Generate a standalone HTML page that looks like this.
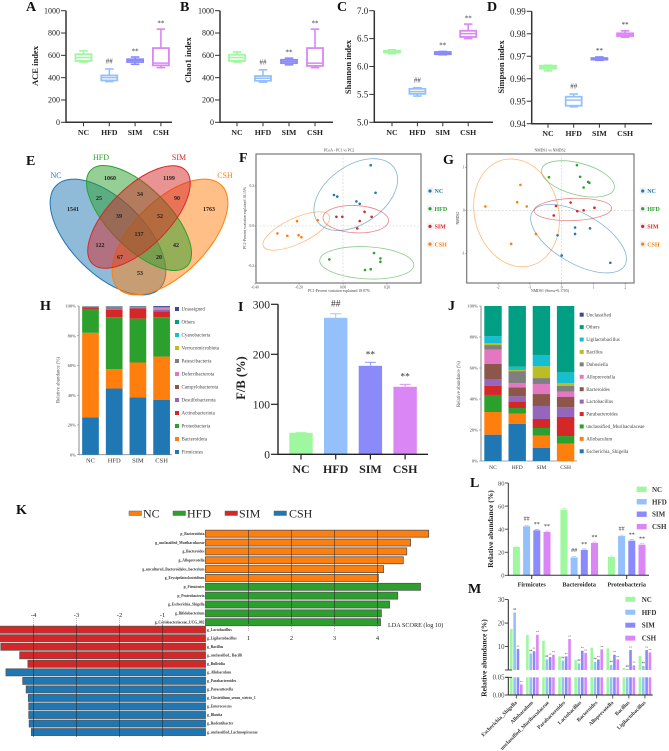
<!DOCTYPE html>
<html lang="en">
<head>
<meta charset="utf-8">
<title>Gut microbiota composite figure</title>
<style>
html,body{margin:0;padding:0;background:#fff;width:669px;height:751px;overflow:hidden}
svg{display:block;font-family:"Liberation Serif",serif}
</style>
</head>
<body>
<svg id="fig" width="669" height="751" viewBox="0 0 669 751">
<g id="pa"></g>
<g id="pb"></g>
<g id="pc"></g>
<g id="pd"></g>
<g id="pe">
  <g font-size="8">
    <ellipse cx="108" cy="237" rx="73" ry="37" transform="rotate(45 108 237)" fill="#1f77b4" fill-opacity=".5" stroke="#1f77b4" stroke-width="1"/>
    <ellipse cx="170" cy="237" rx="73" ry="37" transform="rotate(-45 170 237)" fill="#ff7f0e" fill-opacity=".5" stroke="#ff7f0e" stroke-width="1"/>
    <ellipse cx="139" cy="218" rx="68" ry="30" transform="rotate(45 139 218)" fill="#2ca02c" fill-opacity=".5" stroke="#2ca02c" stroke-width="1"/>
    <ellipse cx="139" cy="217" rx="66" ry="30" transform="rotate(-45 139 217)" fill="#d62728" fill-opacity=".5" stroke="#d62728" stroke-width="1"/>
    <text x="56" y="178" text-anchor="middle" fill="#1f77b4">NC</text>
    <text x="101" y="160" text-anchor="middle" fill="#2ca02c">HFD</text>
    <text x="179" y="160" text-anchor="middle" fill="#d62728">SIM</text>
    <text x="225" y="178" text-anchor="middle" fill="#ff7f0e">CSH</text>
  </g>
  <g font-size="6" font-weight="bold" text-anchor="middle" fill="#222">
    <text x="110" y="180">1060</text>
    <text x="169" y="180">1199</text>
    <text x="73" y="211">1541</text>
    <text x="99" y="200">25</text>
    <text x="140" y="196">34</text>
    <text x="177" y="200">90</text>
    <text x="209" y="211">1763</text>
    <text x="119" y="218">39</text>
    <text x="160" y="218">52</text>
    <text x="139" y="236">137</text>
    <text x="100" y="247">122</text>
    <text x="176" y="247">42</text>
    <text x="120" y="259">67</text>
    <text x="159" y="259">20</text>
    <text x="140" y="275">53</text>
  </g>
</g>
<g id="pf"></g>
<g id="pg"></g>
<g id="ph"></g>
<g id="pi"></g>
<g id="pj"></g>
<g id="pk"></g>
<g id="pl"></g>
<g id="pm"></g>
<g font-size="14" font-weight="bold" fill="#111">
  <text x="26" y="11">A</text>
  <text x="180" y="11">B</text>
  <text x="337" y="11">C</text>
  <text x="487" y="11">D</text>
  <text x="26" y="165">E</text>
  <text x="239" y="162">F</text>
  <text x="443" y="164">G</text>
  <text x="40" y="310">H</text>
  <text x="238" y="311">I</text>
  <text x="448" y="310">J</text>
  <text x="16" y="514">K</text>
  <text x="470" y="487">L</text>
  <text x="468" y="593">M</text>
</g>
</svg>
<script>
// ---------- shared categories ----------
const groups = ['NC', 'HFD', 'SIM', 'CSH'];
const groupSigns = ['', '##', '**', '**'];

// ---------- panels A-D: [min, q1, median, q3, max] per group ----------
const aceStats = [[540, 550, 580, 610, 640], [365, 375, 400, 420, 478], [520, 540, 555, 565, 585], [490, 510, 530, 665, 835]];
const chaoStats = [[540, 550, 580, 605, 630], [360, 372, 395, 415, 470], [515, 530, 545, 560, 575], [490, 505, 530, 665, 835]];
const shannonStats = [[6.23, 6.25, 6.27, 6.28, 6.30], [5.47, 5.51, 5.55, 5.60, 5.62], [6.21, 6.22, 6.24, 6.26, 6.27], [6.50, 6.53, 6.59, 6.64, 6.76]];
const simpsonStats = [[0.9635, 0.9645, 0.9652, 0.9658, 0.966], [0.9475, 0.948, 0.9505, 0.952, 0.9532], [0.9682, 0.9685, 0.9688, 0.9692, 0.9697], [0.9785, 0.979, 0.9795, 0.9802, 0.9813]];
const aceTicks = [0, 200, 400, 600, 800, 1000];
const shannonTicks = ['5.0', '5.5', '6.0', '6.5', '7.0'];
const simpsonTicks = ['0.94', '0.95', '0.96', '0.97', '0.98', '0.99'];

// ---------- panel F: PCoA points [pc1, pc2] ----------
const fPointsNC = [[.126, .304], [.148, .166], [-.041, .155], [-.026, .147], [.061, .123], [.076, .111]];
const fPointsHFD = [[-.062, -.167], [.141, -.135], [.170, -.162], [.170, -.179], [.100, -.220], [.126, -.216]];
const fPointsSIM = [[-.030, .046], [-.003, .046], [.098, .071], [.130, .046], [.076, .025], [.065, -.012]];
const fPointsCSH = [[-.298, -.037], [-.253, -.049], [-.202, -.046], [-.189, -.056], [-.209, .024], [-.115, .029]];
// ellipses: [centre pc1, centre pc2, major, minor, angle]
const fEllipseNC = [.058, .157, .213, .132, -35];
const fEllipseHFD = [.108, -.184, .214, .073, 3];
const fEllipseSIM = [.058, .034, .149, .062, 3];
const fEllipseCSH = [-.212, -.025, .165, .058, -25];
const fXTicks = ['-0.40', '-0.20', '0.00', '0.20'];
const fYTicks = ['-0.2', '0.0', '0.2'];

// ---------- panel G: NMDS points ----------
const gPointsNC = [[.42, -.40], [.42, -.55], [.89, -.42], [-.13, -.58], [0, -1.05], [1.53, -1.22]];
const gPointsHFD = [[.48, 1.05], [.58, .78], [-.40, .77], [.83, .66], [.87, .64], [.69, .53]];
const gPointsSIM = [[-.18, .10], [.28, .18], [1.03, .06], [.69, 0], [.49, -.02], [-.25, -.12]];
const gPointsCSH = [[-1.30, .59], [-2.40, .09], [-1.40, .19], [-1.10, .09], [-.81, -.55], [-1.59, -.78]];
const gEllipseNC = [.53, -.66, 1.68, .78, 30];
const gEllipseHFD = [.51, .73, 1.18, .50, 15];
const gEllipseSIM = [.35, .02, 1.22, .35, -2];
const gEllipseCSH = [-1.42, -.06, 1.72, 1.32, 75];
const gXTicks = [-2, -1, 0, 1, 2];
const gYTicks = [-1, 0, 1];

// ---------- panel H: phylum composition (%) ----------
const hFirmicutes = [25, 44.5, 38.5, 37];
const hBacteroidota = [57, 13, 23.5, 29];
const hProteobacteria = [16, 35, 29.5, 26.5];
const hActinobacteriota = [1.2, 5, 7, 4];
const hDesulfobacterota = [.1, .8, .3, 1];
const hCampylobacterota = [.1, .3, .1, .2];
const hDeferribacterota = [.1, .1, .1, .8];
const hPatescibacteria = [.2, .8, .4, .5];
const hVerrucomicrobiota = [.05, .1, .1, .1];
const hCyanobacteria = [.05, .1, .1, .1];
const hOthers = [.1, .1, .1, .2];
const hUnassigned = [.1, .2, .3, .6];
const hSeries = [hFirmicutes, hBacteroidota, hProteobacteria, hActinobacteriota, hDesulfobacterota, hCampylobacterota, hDeferribacterota, hPatescibacteria, hVerrucomicrobiota, hCyanobacteria, hOthers, hUnassigned];
const hNames = ['Firmicutes', 'Bacteroidota', 'Proteobacteria', 'Actinobacteriota', 'Desulfobacterota', 'Campylobacterota', 'Deferribacterota', 'Patescibacteria', 'Verrucomicrobiota', 'Cyanobacteria', 'Others', 'Unassigned'];
const stackTicks = [0, 20, 40, 60, 80, 100];
const stackColors = ['#1f77b4', '#ff7f0e', '#2ca02c', '#d62728', '#9467bd', '#8c564b', '#e377c2', '#7f7f7f', '#bcbd22', '#17becf', '#009e82', '#3b4992'];

// ---------- panel I: F/B ratio ----------
const iValues = [43, 273, 177, 135];
const iErrors = [1, 8, 7, 5];
const iTicks = [0, 100, 200, 300];

// ---------- panel J: genus composition (%) ----------
const jEscherichia = [17, 23.9, 8.6, 0];
const jAllobaculum = [14.6, 6.6, 7.7, 11.2];
const jMuribaculaceae = [11, 3.7, 5, 4.9];
const jParabacteroides = [5.8, 4.3, 5.8, 12.3];
const jLactobacillus = [4.5, 3.2, 8.4, 6.4];
const jBacteroides = [9.7, 5.8, 7.7, 6.5];
const jAlloprevotella = [9.2, 2.8, 6.5, 3.4];
const jDubosiella = [3, 7.7, 3.8, 3.7];
const jBacillus = [1.3, .7, 7.6, 1.9];
const jLigilactobacillus = [4.5, 2.2, 7.3, 6.9];
const jOthers = [19.4, 39.1, 31.6, 42.8];
const jUnclassified = [0, 0, 0, 0];
const jSeries = [jEscherichia, jAllobaculum, jMuribaculaceae, jParabacteroides, jLactobacillus, jBacteroides, jAlloprevotella, jDubosiella, jBacillus, jLigilactobacillus, jOthers, jUnclassified];
const jNames = ['Escherichia_Shigella', 'Allobaculum', 'unclassified_Muribaculaceae', 'Parabacteroides', 'Lactobacillus', 'Bacteroides', 'Alloprevotella', 'Dubosiella', 'Bacillus', 'Ligilactobacillus', 'Others', 'Unclassified'];

// ---------- panel K: LDA scores ----------
const kUpperLabels = ['p_Bacteroidota', 'g_unclassified_Muribaculaceae', 'g_Bacteroides', 'g_Alloprevotella', 'g_uncultured_Bacteroidales_bacterium', 'g_Erysipelatoclostridium', 'p_Firmicutes', 'p_Proteobacteria', 'g_Escherichia_Shigella', 'g_Bifidobacterium', 'g_Coriobacteriaceae_UCG_002'];
const kUpperScores = [5.19, 4.77, 4.68, 4.60, 4.14, 4.02, 5.0, 4.47, 4.28, 4.09, 4.07];
const kUpperGroups = [0, 0, 0, 0, 0, 0, 1, 1, 1, 1, 1];
const kLowerLabels = ['g_Lactobacillus', 'g_Ligilactobacillus', 'g_Bacillus', 'g_unclassified_ Bacilli', 'g_Bulleidia', 'g_Allobaculum', 'g_Parabacteroides', 'g_Parasutterella', 'g_Clostridium_sensu_stricto_1', 'g_Enterococcus', 'g_Blautia', 'g_Rodentibacter', 'g_unclassified_Lachnospiraceae'];
const kLowerScores = [4.85, 4.85, 4.76, 4.32, 4.13, 4.64, 4.25, 4.17, 4.12, 4.11, 4.11, 4.10, 4.05];
const kLowerGroups = [2, 2, 2, 2, 2, 3, 3, 3, 3, 3, 3, 3, 3];
const kPosTicks = [1, 2, 3, 4];
const kNegTicks = [-1, -2, -3, -4];
const kColors = ['#ff7f0e', '#2ca02c', '#d62728', '#1f77b4'];

// ---------- panel L ----------
const lCategories = ['Firmicutes', 'Bacteroidota', 'Proteobacteria'];
const lNC = [24.5, 57, 16];
const lHFD = [42.5, 15.5, 34];
const lSIM = [39, 22, 30];
const lCSH = [37.5, 28, 26.5];
const lTicks = [0, 20, 40, 60, 80];

// ---------- panel M ----------
const mCategories = ['Escherichia_Shigella', 'Allobaculum', 'unclassified_Muribaculaceae', 'Parabacteroides', 'Lactobacillus', 'Bacteroides', 'Alloprevotella', 'Bacillus', 'Ligilactobacillus'];
const mNC = [17.5, 15, 12.5, 5.8, 4.3, 9.5, 9.2, .9, 6];
const mHFD = [24.5, 7, 4.5, 4, 2.8, 3.5, 2.2, .4, 1.7];
const mSIM = [9, 8, 5.5, 5.8, 8.2, 4.5, 6.5, 8.5, 8.5];
const mCSH = [.03, 15, 6.5, 13.2, 7.3, 8.8, 4.5, 2, 7.5];
const mUpperTicks = [10, 20, 30];
const mLowerTicks = ['0.00', '0.05'];

// ---------- drawing helpers ----------
const NS = 'http://www.w3.org/2000/svg';
const groupColors = ['#9ff79f', '#94c0fb', '#8a8afb', '#db86f5'];
const scatterColors = ['#1f77b4', '#2ca02c', '#d62728', '#ff7f0e'];
function linear(d0, d1, r0, r1) { return v => r0 + (v - d0) * (r1 - r0) / (d1 - d0); }
function add(parent, tag, attrs, name) {
  const el = document.createElementNS(NS, tag);
  for (const k in attrs) el.setAttribute(k, attrs[k]);
  
  
  parent.appendChild(el);
  return el;
}
function txt(parent, s, x, y, size, o, name) {
  o = o || {};
  const a = { x: x, y: y, 'font-size': size, 'text-anchor': o.anchor || 'middle', fill: o.fill || '#222' };
  if (o.weight) a['font-weight'] = o.weight;
  if (o.rot !== undefined) a.transform = 'rotate(' + o.rot + ' ' + x + ' ' + y + ')';
  const el = add(parent, 'text', a, name);
  el.textContent = s;
  return el;
}
function line(parent, x1, y1, x2, y2, stroke, w, name, dash) {
  const a = { x1: x1, y1: y1, x2: x2, y2: y2, stroke: stroke, 'stroke-width': w };
  if (dash) a['stroke-dasharray'] = dash;
  return add(parent, 'line', a, name);
}
function sig(parent, s, x, top, size, name) {
  if (!s) return;
  const y = s === '##' ? top - size * .77 : top - size * .53;
  txt(parent, s, x, y, size, { fill: '#333' }, name);
}

// ---------- box plots ----------
function boxPanel(g, c) {
  const y = linear(c.dom[0], c.dom[1], c.yBot, c.yTop);
  line(g, c.ax, c.yTop, c.ax, c.yBot + .7, '#333', 1.5, 'y-axis');
  line(g, c.ax, c.yBot, c.xEnd, c.yBot, '#333', 1.5, 'x-axis');
  c.ticks.forEach(t => {
    line(g, c.ax - 5, y(+t), c.ax, y(+t), '#333', 1, 'y-tick');
    txt(g, t, c.ax - 6, y(+t) + c.font * .34, c.font, { anchor: 'end' }, 'y-tick-label');
  });
  txt(g, c.title, c.titleX, c.titleY, 8.5, { weight: 'bold', rot: -90 }, 'y-axis-title');
  groups.forEach((name, i) => {
    const cx = c.c0 + i * c.step, col = groupColors[i], st = c.stats[i];
    line(g, cx, c.yBot, cx, c.yBot + 4, '#333', 1, 'x-tick');
    txt(g, name, cx, c.yBot + 12.5, 7.8, { weight: 'bold' }, 'x-tick-label');
    line(g, cx, y(st[0]), cx, y(st[4]), col, 1.6, 'box-whisker');
    line(g, cx - 4.3, y(st[0]), cx + 4.3, y(st[0]), col, 1.6, 'box-cap-low');
    line(g, cx - 4.3, y(st[4]), cx + 4.3, y(st[4]), col, 1.6, 'box-cap-high');
    add(g, 'rect', { x: cx - 8, y: y(st[3]), width: 16, height: Math.max(y(st[1]) - y(st[3]), .4), fill: '#fff', stroke: col, 'stroke-width': 1.8 }, 'box-' + name.toLowerCase());
    line(g, cx - 8, y(st[2]), cx + 8, y(st[2]), col, 1.5, 'box-median');
    sig(g, groupSigns[i], cx, y(st[4]), 7, 'significance-mark');
  });
}
boxPanel(document.getElementById('pa'), { stats: aceStats, dom: [0, 1000], ticks: aceTicks, ax: 66, xEnd: 172, yTop: 10.7, yBot: 122.3, c0: 83.5, step: 25.8, font: 8, title: 'ACE index', titleX: 38, titleY: 66 });
boxPanel(document.getElementById('pb'), { stats: chaoStats, dom: [0, 1000], ticks: aceTicks, ax: 220, xEnd: 333, yTop: 10.7, yBot: 122.3, c0: 237, step: 26, font: 8, title: 'Chao1 index', titleX: 191, titleY: 60 });
boxPanel(document.getElementById('pc'), { stats: shannonStats, dom: [5, 7], ticks: shannonTicks, ax: 374.3, xEnd: 493, yTop: 10.7, yBot: 122.3, c0: 392, step: 25.4, font: 9, title: 'Shannon index', titleX: 351, titleY: 67 });
boxPanel(document.getElementById('pd'), { stats: simpsonStats, dom: [.94, .99], ticks: simpsonTicks, ax: 531.7, xEnd: 652, yTop: 11.3, yBot: 123.7, c0: 548, step: 25.7, font: 9, title: 'Simpson index', titleX: 504, titleY: 67 });

// ---------- ordination ----------
function ordination(g, c) {
  const x = linear(c.xDom[0], c.xDom[1], c.xR[0], c.xR[1]);
  const y = linear(c.yDom[0], c.yDom[1], c.yR[0], c.yR[1]);
  const unit = (c.xR[1] - c.xR[0]) / (c.xDom[1] - c.xDom[0]);
  add(g, 'rect', { x: c.box[0], y: c.box[1], width: c.box[2], height: c.box[3], fill: '#fff', stroke: '#777', 'stroke-width': 1.2 }, 'plot-frame');
  line(g, x(0), c.box[1], x(0), c.box[1] + c.box[3], '#ccc', .6, 'zero-line-vertical', '2 1.5');
  line(g, c.box[0], y(0), c.box[0] + c.box[2], y(0), '#ccc', .6, 'zero-line-horizontal', '2 1.5');
  c.xTicks.forEach(t => {
    line(g, x(+t), c.box[1] + c.box[3], x(+t), c.box[1] + c.box[3] + 1.5, '#555', .5, 'x-tick');
    txt(g, t, x(+t), c.box[1] + c.box[3] + 5.5, 3.6, { fill: '#444' }, 'x-tick-label');
  });
  c.yTicks.forEach(t => {
    line(g, c.box[0] - 1.5, y(+t), c.box[0], y(+t), '#555', .5, 'y-tick');
    txt(g, t, c.box[0] - 2, y(+t) + 1.2, 3.6, { anchor: 'end', fill: '#444' }, 'y-tick-label');
  });
  txt(g, c.title, c.titleX, 151.5, 3.8, { fill: '#444' }, 'chart-title');
  txt(g, c.xLabel, c.titleX, 292, 3.8, { fill: '#444' }, 'x-axis-title');
  txt(g, c.yLabel, c.yLabelX, 218, 3.8, { fill: '#444', rot: -90 }, 'y-axis-title');
  c.ellipses.forEach((e, i) => {
    const cx = x(e[0]), cy = y(e[1]);
    add(g, 'ellipse', { cx: cx, cy: cy, rx: e[2] * unit, ry: e[3] * unit, transform: 'rotate(' + e[4] + ' ' + cx + ' ' + cy + ')', fill: 'none', stroke: scatterColors[i], 'stroke-opacity': .55, 'stroke-width': .8 }, 'ellipse-' + groups[i].toLowerCase());
  });
  c.points.forEach((pts, i) => {
    pts.forEach(p => {
      add(g, 'circle', { cx: x(p[0]), cy: y(p[1]), r: 1.3, fill: scatterColors[i] }, 'point-' + groups[i].toLowerCase());
    });
    const ly = 191 + i * 17.7;
    add(g, 'rect', { x: c.legX - 3, y: ly - 3.5, width: 7, height: 7, fill: '#f2f2f2' }, 'legend-marker-bg');
    add(g, 'circle', { cx: c.legX, cy: ly, r: 1.6, fill: scatterColors[i] }, 'legend-marker-' + groups[i].toLowerCase());
    txt(g, groups[i], c.legX + 4.5, ly + 2.2, 6, { anchor: 'start', weight: 'bold', fill: scatterColors[i] }, 'legend-entry-' + groups[i].toLowerCase());
  });
}
ordination(document.getElementById('pf'), {
  xDom: [0, .2], xR: [343, 387], yDom: [0, .2], yR: [226, 186], box: [256, 154, 165, 129],
  points: [fPointsNC, fPointsHFD, fPointsSIM, fPointsCSH], ellipses: [fEllipseNC, fEllipseHFD, fEllipseSIM, fEllipseCSH],
  xTicks: fXTicks, yTicks: fYTicks, title: 'PCoA - PC1 vs PC2', xLabel: 'PC1-Percent variation explained 18.87%',
  yLabel: 'PC2-Percent variation explained 18.15%', yLabelX: 246, titleX: 339, legX: 430
});
ordination(document.getElementById('pg'), {
  xDom: [0, 1], xR: [561.7, 593.5], yDom: [0, 1], yR: [210.3, 167.3], box: [466.7, 154, 167.3, 129],
  points: [gPointsNC, gPointsHFD, gPointsSIM, gPointsCSH], ellipses: [gEllipseNC, gEllipseHFD, gEllipseSIM, gEllipseCSH],
  xTicks: gXTicks, yTicks: gYTicks, title: 'NMDS1 vs NMDS2', xLabel: 'NMDS1 (Stress=0.1705)',
  yLabel: 'NMDS2', yLabelX: 459, titleX: 550, legX: 642.7
});

// ---------- stacked bars ----------
function stack(g, c) {
  const y = linear(0, 100, c.y0, c.y100);
  line(g, c.ax, c.y100, c.ax, c.y0, '#888', 1, 'y-axis');
  line(g, c.ax, c.y0, c.xEnd, c.y0, '#888', .8, 'x-axis');
  stackTicks.forEach(t => {
    line(g, c.ax - 2, y(t), c.ax, y(t), '#888', .6, 'y-tick');
    txt(g, t + '%', c.ax - 3, y(t) + 1.6, 4.6, { anchor: 'end', fill: '#444' }, 'y-tick-label');
  });
  txt(g, 'Relative abundance (%)', c.titleX, c.titleY, 4.8, { fill: '#555', rot: -90 }, 'y-axis-title');
  groups.forEach((name, i) => {
    const cx = c.c0 + i * c.step;
    let acc = 0;
    c.series.forEach((vals, s) => {
      const v = vals[i];
      add(g, 'rect', { x: cx - c.w / 2, y: y(acc + v), width: c.w, height: y(acc) - y(acc + v), fill: stackColors[s] }, 'bar-' + name.toLowerCase() + '-' + c.names[s].toLowerCase());
      acc += v;
    });
    txt(g, name, cx, c.labY, c.labSize, { fill: '#333' }, 'x-tick-label');
  });
  c.names.forEach((n, s) => {
    const ly = c.legY0 - s * c.legStep;
    add(g, 'rect', { x: c.legX, y: ly - 2, width: 4, height: 4, fill: stackColors[s] }, 'legend-swatch');
    txt(g, n, c.legX + 6.5, ly + 1.6, 5, { anchor: 'start', fill: '#444' }, 'legend-entry');
  });
}
stack(document.getElementById('ph'), { series: hSeries, names: hNames, y0: 454.7, y100: 306, ax: 79, xEnd: 172, c0: 90.5, step: 23.7, w: 16.7, labY: 462.5, labSize: 6.5, titleX: 59.5, titleY: 380, legX: 175, legY0: 452, legStep: 13 });
stack(document.getElementById('pj'), { series: jSeries, names: jNames, y0: 461, y100: 306, ax: 481, xEnd: 577, c0: 493, step: 24.2, w: 17.4, labY: 469, labSize: 5.5, titleX: 460, titleY: 384, legX: 579.7, legY0: 451.3, legStep: 12.42 });

// ---------- panel I ----------
(function () {
  const g = document.getElementById('pi');
  const y = linear(0, 300, 454.3, 304.3);
  iValues.forEach((v, i) => {
    const cx = 301 + i * 34.7;
    add(g, 'rect', { x: cx - 11.7, y: y(v), width: 23.4, height: 454.3 - y(v), fill: groupColors[i] }, 'bar-' + groups[i].toLowerCase());
    line(g, cx, y(v), cx, y(v + iErrors[i]), groupColors[i], .9, 'error-bar');
    line(g, cx - 5.5, y(v + iErrors[i]), cx + 5.5, y(v + iErrors[i]), groupColors[i], .9, 'error-cap');
    sig(g, groupSigns[i], cx, y(v + iErrors[i]), 9.5, 'significance-mark');
    line(g, cx, 454.3, cx, 459.5, '#222', 1.2, 'x-tick');
    txt(g, groups[i], cx, 473, 12, { weight: 'bold' }, 'x-tick-label');
  });
  line(g, 278, 304.3, 278, 455, '#222', 1.4, 'y-axis');
  line(g, 278, 454.3, 428, 454.3, '#222', 1.4, 'x-axis');
  iTicks.forEach(t => {
    line(g, 271, y(t), 278, y(t), '#222', 1.2, 'y-tick');
    txt(g, t, 270, y(t) + 4, 11.5, { anchor: 'end' }, 'y-tick-label');
  });
  txt(g, 'F/B (%)', 245, 378, 12.5, { weight: 'bold', rot: -90 }, 'y-axis-title');
})();

// ---------- panel K ----------
(function () {
  const g = document.getElementById('pk');
  const x = linear(0, 1, 205.5, 248.5);
  const legend = [[129, 143], [173, 187], [225, 239], [274, 289]];
  groups.forEach((n, i) => {
    add(g, 'rect', { x: legend[i][0], y: 511, width: 12.5, height: 4.5, fill: kColors[i], stroke: '#666', 'stroke-width': .5 }, 'legend-swatch-' + n.toLowerCase());
    txt(g, n, legend[i][1], 517.5, 12, { anchor: 'start' }, 'legend-entry-' + n.toLowerCase());
  });
  kUpperScores.forEach((v, i) => {
    const cy = 533.7 + i * 8.85;
    add(g, 'rect', { x: x(0), y: cy - 3.5, width: x(v) - x(0), height: 7, fill: kColors[kUpperGroups[i]], stroke: '#555', 'stroke-width': .8 }, 'lda-bar');
    txt(g, kUpperLabels[i], 204.5, cy + 1.2, 3.7, { anchor: 'end', weight: 'bold', fill: '#333' }, 'lda-bar-label');
  });
  kLowerScores.forEach((v, i) => {
    const cy = 629.7 + i * 8.53;
    add(g, 'rect', { x: x(-v), y: cy - 3.5, width: x(0) - x(-v), height: 7, fill: kColors[kLowerGroups[i]], stroke: '#555', 'stroke-width': .8 }, 'lda-bar');
    txt(g, kLowerLabels[i], 207, cy + 1.2, 3.7, { anchor: 'start', weight: 'bold', fill: '#333' }, 'lda-bar-label');
  });
  kPosTicks.forEach(t => {
    line(g, x(t), 530, x(t), 624, '#222', .5, 'lda-gridline');
    line(g, x(t), 624, x(t), 632, '#666', .5, 'lda-tick', '1 1');
    txt(g, t, x(t), 640, 6.5, {}, 'lda-tick-label');
  });
  kNegTicks.forEach(t => {
    line(g, x(t), 625, x(t), 737, '#222', .5, 'lda-gridline');
    line(g, x(t), 618, x(t), 625, '#666', .5, 'lda-tick', '1 1');
    txt(g, t, x(t), 617, 6.5, {}, 'lda-tick-label');
  });
  txt(g, 'LDA SCORE (log 10)', 388, 627, 6.2, { anchor: 'start' }, 'x-axis-title');
})();

// ---------- panel L ----------
(function () {
  const g = document.getElementById('pl');
  const y = linear(0, 80, 575.3, 483);
  const series = [lNC, lHFD, lSIM, lCSH];
  lCategories.forEach((cat, c) => {
    const gc = 531.7 + c * 47.5;
    series.forEach((vals, s) => {
      const cx = gc + (s - 1.5) * 10.2, v = vals[c];
      add(g, 'rect', { x: cx - 3.5, y: y(v), width: 7, height: 575.3 - y(v), fill: groupColors[s] }, 'bar-' + groups[s].toLowerCase());
      line(g, cx - 2, y(v + .8), cx + 2, y(v + .8), groupColors[s], .6, 'error-cap');
      sig(g, groupSigns[s], cx, y(v + .8), 6, 'significance-mark');
    });
    line(g, gc, 575.3, gc, 579, '#333', 1, 'x-tick');
    txt(g, cat, gc, 586.5, 6.1, { weight: 'bold' }, 'x-tick-label');
  });
  line(g, 508.3, 483, 508.3, 576, '#333', 1, 'y-axis');
  line(g, 508.3, 575.3, 649, 575.3, '#333', 1, 'x-axis');
  lTicks.forEach(t => {
    line(g, 505, y(t), 508.3, y(t), '#333', .8, 'y-tick');
    txt(g, t, 504.5, y(t) + 2.3, 6.5, { anchor: 'end', fill: '#444' }, 'y-tick-label');
  });
  txt(g, 'Relative abundance (%)', 493, 529, 7.5, { weight: 'bold', rot: -90 }, 'y-axis-title');
  groups.forEach((n, i) => {
    const ly = 489.3 + i * 12.45;
    add(g, 'rect', { x: 636.7, y: ly - 2.7, width: 10, height: 5.4, fill: groupColors[i] }, 'legend-swatch-' + n.toLowerCase());
    txt(g, n, 652, ly + 2.5, 7, { anchor: 'start', weight: 'bold', fill: '#333' }, 'legend-entry-' + n.toLowerCase());
  });
})();

// ---------- panel M ----------
(function () {
  const g = document.getElementById('pm');
  const yU = linear(0, 30, 670, 599.6);
  const yL = linear(0, .05, 695, 677.3);
  const series = [mNC, mHFD, mSIM, mCSH];
  mCategories.forEach((cat, c) => {
    const gc = 516.3 + c * 16.08;
    series.forEach((vals, s) => {
      const cx = gc + (s - 1.5) * 3.33, v = vals[c];
      const low = Math.min(v, .05);
      add(g, 'rect', { x: cx - 1.3, y: yL(low), width: 2.6, height: 695 - yL(low), fill: groupColors[s] }, 'bar-lower-' + groups[s].toLowerCase());
      if (v > .05) {
        add(g, 'rect', { x: cx - 1.3, y: yU(v), width: 2.6, height: 670 - yU(v), fill: groupColors[s] }, 'bar-upper-' + groups[s].toLowerCase());
      }
      sig(g, groupSigns[s], cx, v > .05 ? yU(v) : yL(v), 3, 'significance-mark');
    });
    line(g, gc, 695, gc, 698.5, '#333', .8, 'x-tick');
    txt(g, cat, gc + 1, 703, 5.4, { anchor: 'end', weight: 'bold', fill: '#333', rot: -45 }, 'x-tick-label');
  });
  line(g, 508.3, 599.6, 508.3, 670, '#222', 1, 'y-axis-upper');
  line(g, 508.3, 677.3, 508.3, 695.5, '#222', 1, 'y-axis-lower');
  line(g, 505, 670, 512, 670, '#222', .8, 'axis-break-upper');
  line(g, 505, 677.3, 512, 677.3, '#222', .8, 'axis-break-lower');
  line(g, 508.3, 695, 652.7, 695, '#222', 1, 'x-axis');
  mUpperTicks.forEach(t => {
    line(g, 505, yU(t), 508.3, yU(t), '#222', .8, 'y-tick');
    txt(g, t, 504.5, yU(t) + 2.4, 6.8, { anchor: 'end', fill: '#444' }, 'y-tick-label');
  });
  mLowerTicks.forEach(t => {
    line(g, 505, yL(+t), 508.3, yL(+t), '#222', .8, 'y-tick');
    txt(g, t, 504.5, yL(+t) + 2.4, 6.8, { anchor: 'end', fill: '#444' }, 'y-tick-label');
  });
  txt(g, 'Relative abundance (%)', 486.5, 658, 7.5, { weight: 'bold', rot: -90 }, 'y-axis-title');
  groups.forEach((n, i) => {
    const ly = 599.3 + i * 12.95;
    add(g, 'rect', { x: 625.3, y: ly - 2.5, width: 10, height: 5, fill: groupColors[i] }, 'legend-swatch-' + n.toLowerCase());
    txt(g, n, 641.7, ly + 2.5, 7, { anchor: 'start', weight: 'bold', fill: '#333' }, 'legend-entry-' + n.toLowerCase());
  });
})();
</script>
</body>
</html>
